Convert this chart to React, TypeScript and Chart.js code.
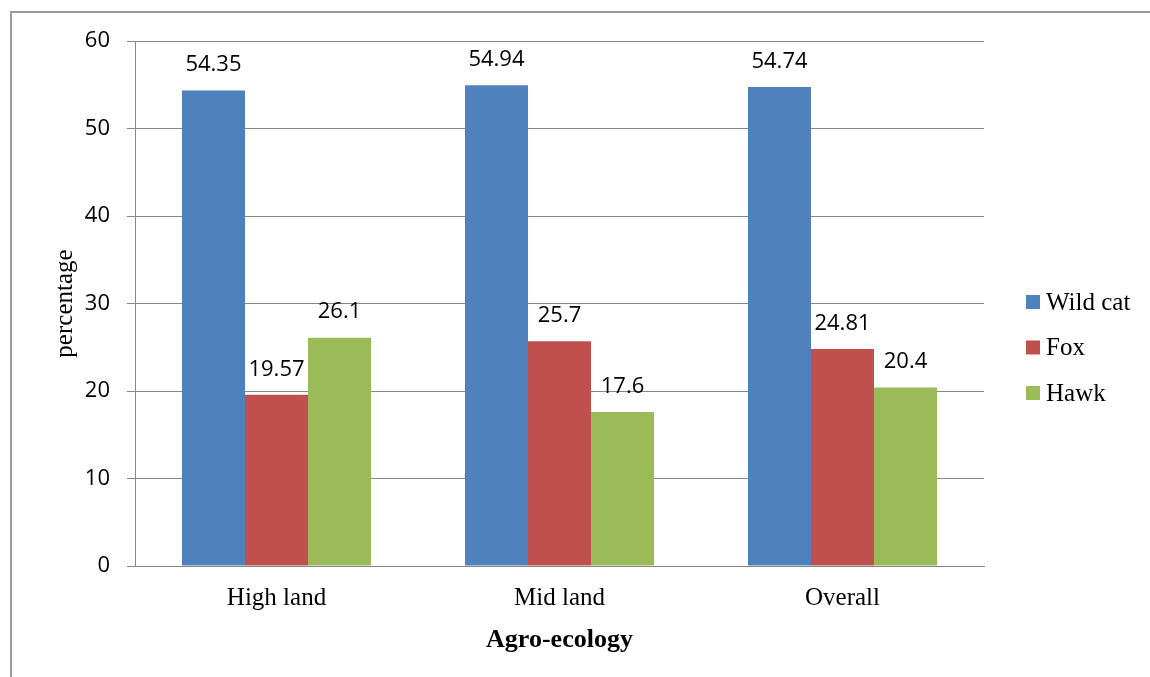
import React, { useEffect, useRef } from "react";
import { Chart, registerables } from "chart.js";

Chart.register(...registerables);

// Agro-ecology zones and the share (%) of each predator reported
const categories = ["High land", "Mid land", "Overall"];
const seriesNames = ["Wild cat", "Fox", "Hawk"];
const wildCat = [54.35, 54.94, 54.74];
const fox = [19.57, 25.7, 24.81];
const hawk = [26.1, 17.6, 20.4];
const seriesColors = ["#4F81BD", "#C0504D", "#9BBB59"];
const yTicks = [0, 10, 20, 30, 40, 50, 60];

const SANS = "'Open Sans', 'Noto Sans', sans-serif";
const SERIF = "'Liberation Serif', 'DejaVu Serif', serif";
const GRID = "#878787";

// Value labels above every bar
const valueLabels = {
  id: "valueLabels",
  afterDatasetsDraw(chart: any) {
    const ctx = chart.ctx;
    ctx.save();
    ctx.font = `22px ${SANS}`;
    ctx.fillStyle = "#000";
    ctx.textAlign = "center";
    ctx.textBaseline = "middle";
    chart.data.datasets.forEach((ds: any, di: number) => {
      const meta = chart.getDatasetMeta(di);
      meta.data.forEach((bar: any, i: number) => {
        ctx.fillText(String(ds.data[i]), bar.x, bar.y - 25.5);
      });
    });
    ctx.restore();
  },
};

// Legend drawn as a column of square swatches to the right of the plot
const sideLegend = {
  id: "sideLegend",
  afterDraw(chart: any) {
    const ctx = chart.ctx;
    const area = chart.chartArea;
    const mid = (area.top + area.bottom) / 2;
    ctx.save();
    ctx.font = `25px ${SERIF}`;
    ctx.textBaseline = "middle";
    ctx.textAlign = "left";
    chart.data.datasets.forEach((ds: any, i: number) => {
      const cy = mid - 1.5 + i * 45.5;
      const x = area.right + 42;
      ctx.fillStyle = ds.backgroundColor;
      ctx.fillRect(x, cy - 7, 14, 14);
      ctx.fillStyle = "#000";
      ctx.fillText(ds.label, x + 20, cy + 1);
    });
    ctx.restore();
  },
};

export default function App() {
  const canvasRef = useRef<HTMLCanvasElement | null>(null);

  useEffect(() => {
    if (!canvasRef.current) return;
    const series = [wildCat, fox, hawk];
    const chart = new Chart(canvasRef.current, {
      type: "bar",
      data: {
        labels: categories,
        datasets: series.map((values, i) => ({
          label: seriesNames[i],
          data: values,
          backgroundColor: seriesColors[i],
          borderWidth: 0,
          categoryPercentage: 0.668,
          barPercentage: 1,
        })),
      },
      options: {
        responsive: false,
        animation: false,
        layout: { padding: { top: 41, right: 166, bottom: 0, left: 0 } },
        plugins: {
          legend: { display: false },
          tooltip: { enabled: false },
        },
        scales: {
          x: {
            grid: { display: false, drawTicks: false },
            border: { display: true, color: GRID, width: 1 },
            ticks: {
              padding: 17,
              color: "#000",
              font: { family: SERIF, size: 25 },
            },
            title: {
              display: true,
              text: "Agro-ecology",
              color: "#000",
              font: { family: SERIF, size: 26, weight: "bold" },
              padding: { top: 0, bottom: 21 },
            },
            afterFit(scale: any) {
              scale.height = 111;
            },
          },
          y: {
            min: 0,
            max: 60,
            afterBuildTicks(scale: any) {
              scale.ticks = yTicks.map((v) => ({ value: v }));
            },
            grid: { color: GRID, lineWidth: 1, tickLength: 8 },
            border: { display: true, color: GRID, width: 1 },
            ticks: {
              padding: 17,
              color: "#000",
              font: { family: SANS, size: 22 },
            },
            title: {
              display: true,
              text: "percentage",
              color: "#000",
              font: { family: SERIF, size: 25 },
              padding: { top: 50, bottom: 0 },
            },
            afterFit(scale: any) {
              scale.width = 135;
            },
          },
        },
      },
      plugins: [valueLabels, sideLegend],
    });
    return () => chart.destroy();
  }, []);

  return (
    <div
      style={{
        position: "absolute",
        left: 0,
        top: 0,
        width: 1150,
        height: 677,
        background: "#fff",
        overflow: "hidden",
      }}
    >
      <div
        style={{
          position: "absolute",
          left: 10,
          top: 11,
          width: 1200,
          height: 700,
          borderTop: "2px solid #9a9a9a",
          borderLeft: "2px solid #9a9a9a",
        }}
      />
      <canvas
        ref={canvasRef}
        width={1150}
        height={677}
        style={{ position: "absolute", left: 0, top: 0 }}
      />
    </div>
  );
}
